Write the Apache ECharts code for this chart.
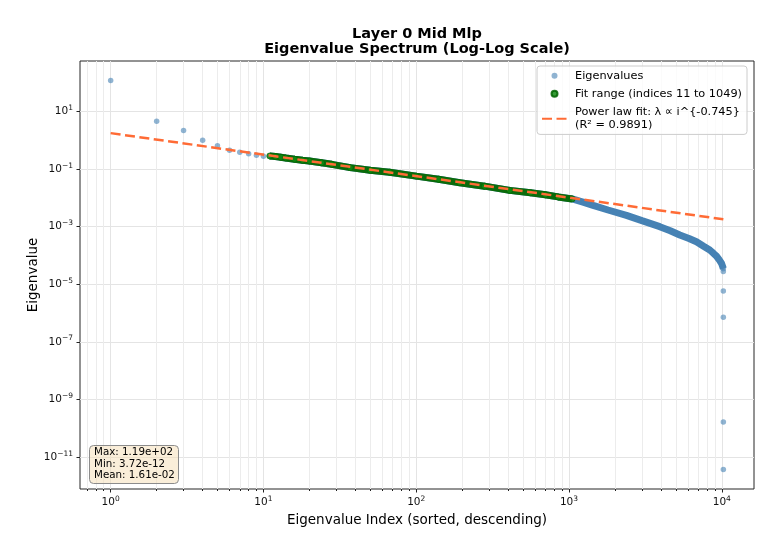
<!DOCTYPE html>
<html>
<head>
<meta charset="utf-8">
<script src="https://cdn.jsdelivr.net/npm/echarts@6/dist/echarts.min.js"></script>
<style>
  html, body { margin: 0; padding: 0; background: #fff; }
  #chart { width: 780px; height: 555px; }
</style>
</head>
<body>
<div id="chart"></div>
<script>
// first eigenvalues, drawn as separate dots
const headIndex = [1, 2, 3, 4, 5, 6, 7, 8, 9, 10];
const headValue = [119, 4.6, 2.19, 1.01, 0.645, 0.454, 0.386, 0.339, 0.304, 0.281];

// fit range (indices 11 to 1049), read along the green band
const fitIndex = [11, 12, 13, 14, 16, 18, 20, 24, 28, 37, 50, 67, 100, 140, 193, 280, 409, 560, 700, 850, 1049];
const fitValue = [0.285, 0.272, 0.257, 0.243, 0.22, 0.202, 0.19, 0.165, 0.146, 0.112, 0.091, 0.078, 0.057,
  0.0445, 0.0337, 0.0255, 0.0182, 0.015, 0.0128, 0.0108, 0.0092];

// rest of the spectrum, read along the blue band
const tailIndex = [1049, 1250, 1438, 1800, 2377, 3000, 3929, 4600, 5309, 6100, 6826, 7600, 8340, 8800, 9230,
  9600, 9950, 10150, 10235];
const tailValue = [0.0092, 0.007, 0.0055, 0.0038, 0.00247, 0.00162, 0.001, 0.00072, 0.000515, 0.00039, 0.0003,
  0.00021, 0.000155, 0.00012, 0.000095, 0.000072, 0.000054, 0.00004, 0.000035];

// smallest eigenvalues, separated at the end
const lastIndex = [10236, 10237, 10238, 10239, 10240];
const lastValue = [2.8e-5, 5.8e-6, 7.2e-7, 1.65e-10, 3.72e-12];

// power law fit line, end points
const lineIndex = [1, 10240];
const lineValue = [1.77, 0.0018];

const xMajorTicks = [1, 10, 100, 1000, 10000];
const xMinorTicks = [0.7, 0.8, 0.9, 2, 3, 4, 5, 6, 7, 8, 9, 20, 30, 40, 50, 60, 70, 80, 90,
  200, 300, 400, 500, 600, 700, 800, 900, 2000, 3000, 4000, 5000, 6000, 7000, 8000, 9000];
const yMajorTicks = [10, 0.1, 1e-3, 1e-5, 1e-7, 1e-9, 1e-11];

const statsLines = ["Max: 1.19e+02", "Min: 3.72e-12", "Mean: 1.61e-02"];
const legendNames = [
  "Eigenvalues",
  "Fit range (indices 11 to 1049)",
  "Power law fit: λ ∝ i^{-0.745}\n(R² = 0.9891)",
];

const FONT = "DejaVu Sans";

const pairs = (xs, ys) => xs.map((x, i) => [x, ys[i]]);
const allPoints = pairs(headIndex, headValue)
  .concat(pairs(fitIndex, fitValue))
  .concat(pairs(tailIndex, tailValue))
  .concat(pairs(lastIndex, lastValue));
const bandPoints = pairs(fitIndex, fitValue).concat(pairs(tailIndex.slice(1), tailValue.slice(1)));
const fitPoints = pairs(fitIndex, fitValue);

function powerLabel(v) {
  const e = Math.round(Math.log10(v));
  return "{b|10}{s|" + String(e).replace("-", "\u2212") + "}";
}
const labelRich = {
  b: { fontSize: 10.5, lineHeight: 15, fontFamily: FONT, color: "#111" },
  s: { fontSize: 7.5, lineHeight: 9, verticalAlign: "top", fontFamily: FONT, color: "#111" },
};

const chart = echarts.init(document.getElementById("chart"));

const option = {
  animation: false,
  textStyle: { fontFamily: FONT },
  title: [
    {
      text: "Layer 0 Mid Mlp\nEigenvalue Spectrum (Log-Log Scale)",
      left: 412,
      top: 22,
      textAlign: "center",
      textStyle: { fontSize: 14.5, fontWeight: "bold", lineHeight: 15, color: "#000", fontFamily: FONT },
    },
    {
      text: statsLines.join("\n"),
      left: 89,
      top: 445,
      padding: [2, 4, 2.5, 5],
      backgroundColor: "rgba(245,222,179,0.5)",
      borderColor: "#8c8c8c",
      borderWidth: 1,
      borderRadius: 4,
      textStyle: { fontSize: 10.3, fontWeight: "normal", lineHeight: 11.5, color: "#000", fontFamily: FONT },
    },
  ],
  legend: {
    orient: "vertical",
    right: 33,
    top: 66,
    padding: [3, 5, 2, 4],
    itemWidth: 25,
    itemHeight: 6,
    itemGap: 4.3,
    backgroundColor: "rgba(255,255,255,0.8)",
    borderColor: "#cccccc",
    borderWidth: 1,
    borderRadius: 3,
    textStyle: { fontSize: 11.3, lineHeight: 13.7, color: "#000", fontFamily: FONT, padding: [0, 0, 0, 3] },
    data: [
      { name: legendNames[0] },
      { name: legendNames[1] },
      { name: legendNames[2], itemStyle: { opacity: 0 } },
    ],
  },
  grid: {
    left: 80,
    right: 26,
    top: 61,
    bottom: 66,
    show: true,
    borderColor: "#262626",
    borderWidth: 1,
    backgroundColor: "transparent",
  },
  xAxis: [
    {
      type: "log",
      logBase: 10,
      min: 0.63,
      max: 16250,
      name: "Eigenvalue Index (sorted, descending)",
      nameLocation: "middle",
      nameGap: 24,
      nameMoveOverlap: false,
      nameTextStyle: { fontSize: 13.5, color: "#000", fontFamily: FONT },
      axisLine: { show: false },
      axisTick: { customValues: xMajorTicks, length: 3.5, lineStyle: { color: "#222" } },
      axisLabel: { customValues: xMajorTicks, formatter: powerLabel, rich: labelRich, margin: 6 },
      splitLine: { show: true, lineStyle: { color: "#e4e4e4", width: 1 } },
    },
    {
      type: "log",
      logBase: 10,
      min: 0.63,
      max: 16250,
      position: "bottom",
      axisLine: { show: false },
      axisTick: { customValues: xMinorTicks, length: 2, lineStyle: { color: "#222" } },
      axisLabel: { show: false },
      splitLine: { show: true, lineStyle: { color: "#ececec", width: 1 } },
    },
  ],
  yAxis: {
    type: "log",
    logBase: 10,
    min: 7.85e-13,
    max: 564,
    name: "Eigenvalue",
    nameLocation: "middle",
    nameGap: 40,
    nameMoveOverlap: false,
    nameTextStyle: { fontSize: 13.5, color: "#000", fontFamily: FONT },
    axisLine: { show: false },
    axisTick: { customValues: yMajorTicks, length: 3.5, lineStyle: { color: "#222" } },
    axisLabel: { customValues: yMajorTicks, formatter: powerLabel, rich: labelRich, margin: 7, align: "right" },
    splitLine: { show: true, lineStyle: { color: "#e4e4e4", width: 1 } },
  },
  series: [
    {
      name: "band-all",
      type: "line",
      data: bandPoints,
      symbol: "none",
      z: 1,
      lineStyle: { color: "#4682b4", width: 7 },
    },
    {
      name: legendNames[0],
      type: "scatter",
      data: allPoints,
      symbolSize: 5.5,
      z: 2,
      itemStyle: { color: "#4682b4", opacity: 0.6 },
    },
    {
      name: "band-fit",
      type: "line",
      data: fitPoints,
      symbol: "none",
      z: 3,
      lineStyle: { color: "#0b6b0b", width: 7 },
    },
    {
      name: legendNames[1],
      type: "scatter",
      data: fitPoints,
      symbolSize: 6,
      z: 4,
      itemStyle: { color: "#128a12", borderColor: "#006400", borderWidth: 0.8, opacity: 0.85 },
    },
    {
      name: legendNames[2],
      type: "line",
      data: pairs(lineIndex, lineValue),
      symbol: "none",
      z: 5,
      lineStyle: { color: "#ff6b35", width: 2.5, type: [10, 4.5] },
      itemStyle: { color: "#ff6b35" },
    },
  ],
};

chart.setOption(option);
window.addEventListener("resize", () => chart.resize());
</script>
</body>
</html>
